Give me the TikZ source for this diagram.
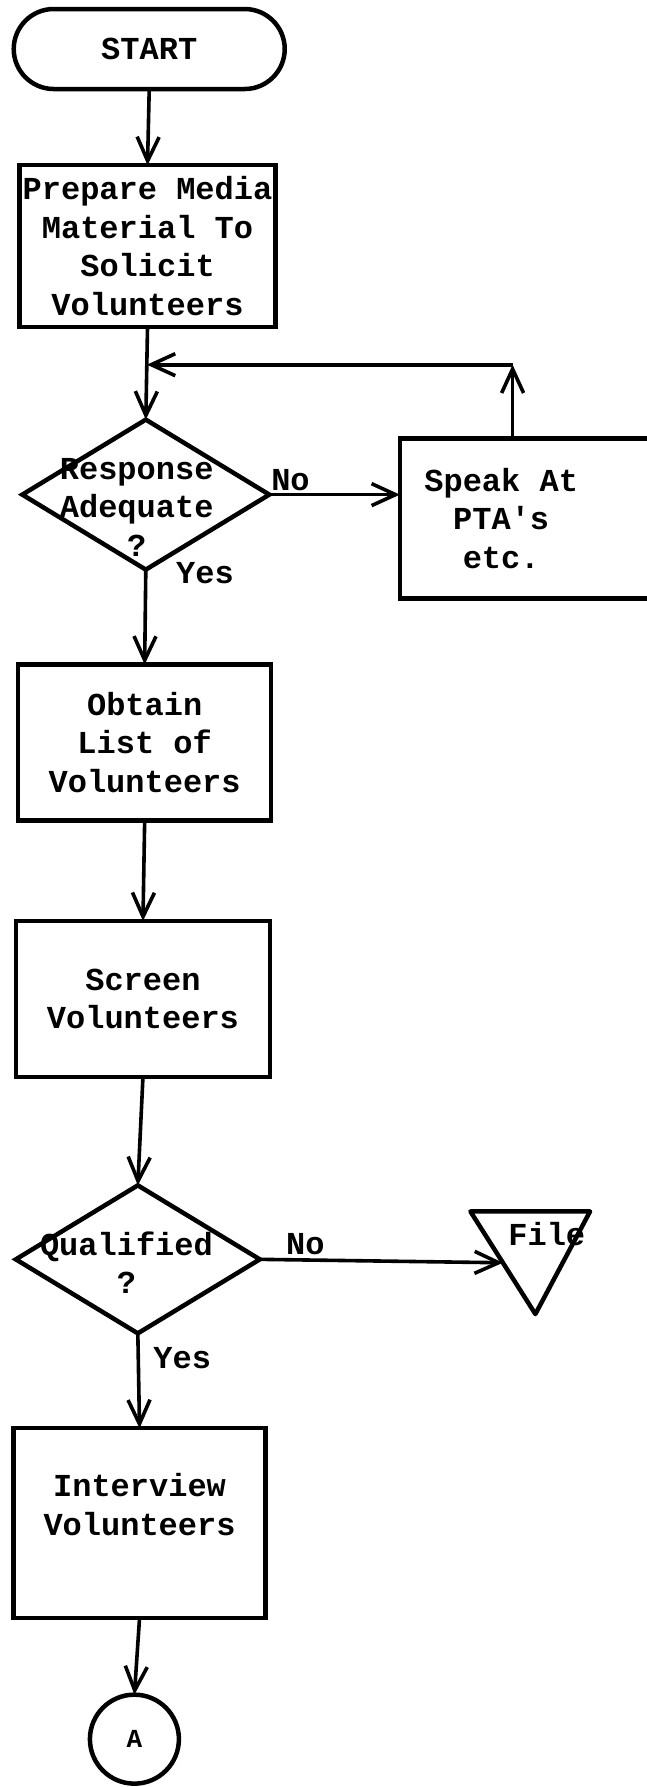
\documentclass[tikz,border=0pt]{standalone}
\usepackage{fontspec}
\setmonofont{Liberation Mono}
\usetikzlibrary{shapes.geometric,shapes.misc,arrows.meta}
\begin{document}
\begin{tikzpicture}[x=1.13908pt,y=-1.13967pt,
  every node/.style={inner sep=0pt, outer sep=0pt},
  txt/.style={font=\ttfamily\bfseries\fontsize{32}{38.5}\selectfont, align=center},
  box/.style={draw, rectangle, line width=4.5pt},
  term/.style={draw, rounded rectangle, line width=4.5pt, minimum width=271pt, minimum height=80pt},
  diam/.style={draw, diamond, line width=4.5pt},
  conn/.style={draw, circle, line width=4.5pt, minimum size=89pt},
  arr/.style={line width=3.6pt, -{Straight Barb[length=24pt,width=22pt,line width=3.6pt]}},
  line/.style={line width=3.6pt}
]
\useasboundingbox (0,0) rectangle (568,1568);
\clip (0,0) rectangle (568,1568);

% nodes
\node[term, txt] (start) at (131,43) {START};
\node[box, txt, minimum width=256pt, minimum height=162pt] (prep) at (129.5,216)
  {Prepare Media\\Material To\\Solicit\\Volunteers};
\node[diam, minimum width=247pt, minimum height=150pt] (d1) at (128,434) {};
\node[txt] (d1t) at (120,445) {Response\\Adequate\\?};
\node[box, minimum width=255pt, minimum height=160pt] (speak) at (463,455) {};
\node[txt] (speakt) at (440,455) {Speak At\\PTA's\\etc.};
\node[box, txt, minimum width=253pt, minimum height=156pt] (obtain) at (127,651.5)
  {Obtain\\List of\\Volunteers};
\node[box, txt, minimum width=254pt, minimum height=156pt] (screen) at (125.5,876.5)
  {Screen\\Volunteers};
\node[diam, minimum width=244pt, minimum height=148pt] (d2) at (121,1105) {};
\node[txt] (d2t) at (111,1108) {Qualified\\?};
\node[box, minimum width=252pt, minimum height=190pt] (interview) at (122.5,1336.5) {};
\node[txt] (interviewt) at (122.5,1320) {Interview\\Volunteers};
\node[conn, font=\ttfamily\bfseries\fontsize{26}{28}\selectfont] (a) at (118,1526) {A};

% file (inverted triangle)
\coordinate (ftl) at (413,1063);
\coordinate (ftr) at (518,1063);
\coordinate (fb) at (470,1153);
\draw[line, line width=4.5pt, line join=round] (ftl) -- (ftr) -- (fb) -- cycle;
\coordinate (filein) at (441.5,1108);
\node[txt] (filet) at (480,1083) {File};

% labels
\node[txt] (no1) at (255,421) {No};
\node[txt] (yes1) at (180,503) {Yes};
\node[txt] (no2) at (268,1092) {No};
\node[txt] (yes2) at (160,1192) {Yes};

% connectors
\coordinate (lc) at (450,320);
\coordinate (lj) at (129,320);
\draw[arr] (start.south) -- (prep.north);
\draw[arr] (prep.south) -- (d1.north);
\draw[arr] (d1.east) -- (d1.east -| speak.west);
\draw[arr] (speak.north -| lc) -- (lc);
\draw[arr] (lc) -- (lj);
\draw[arr] (d1.south) -- (obtain.north);
\draw[arr] (obtain.south) -- (screen.north);
\draw[arr] (screen.south) -- (d2.north);
\draw[arr] (d2.east) -- (filein);
\draw[arr] (d2.south) -- (interview.north);
\draw[arr] (interview.south) -- (a.north);
\end{tikzpicture}
\end{document}
